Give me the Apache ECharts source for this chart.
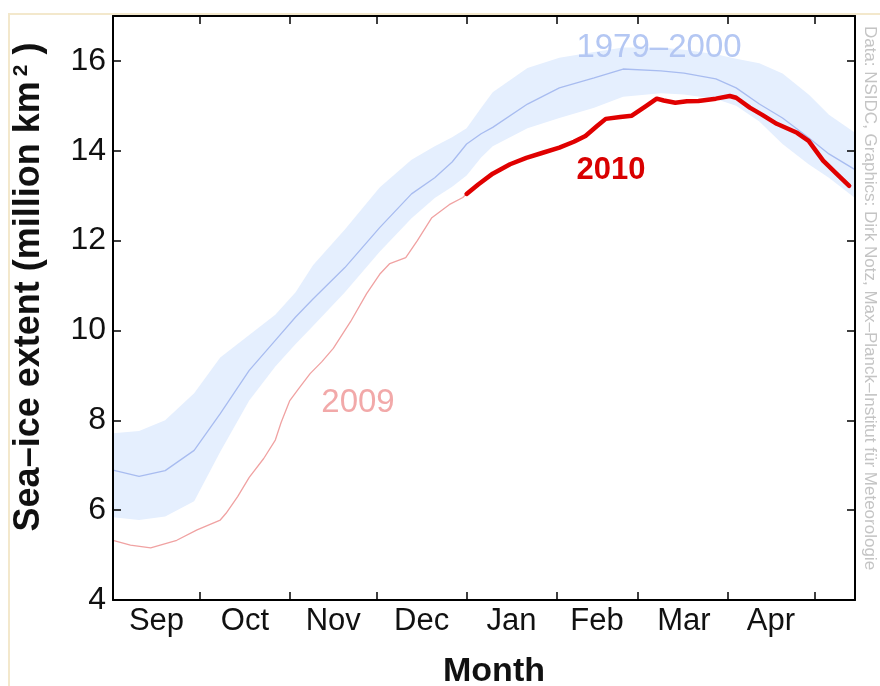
<!DOCTYPE html>
<html>
<head>
<meta charset="utf-8">
<script src="https://cdn.jsdelivr.net/npm/echarts@6/dist/echarts.min.js"></script>
<style>
  html, body { margin: 0; padding: 0; background: #fff; }
  #chart { width: 880px; height: 686px; }
</style>
</head>
<body>
<div id="chart"></div>
<script>
// x = days since 1 Sep
const monthNames = ['Sep', 'Oct', 'Nov', 'Dec', 'Jan', 'Feb', 'Mar', 'Apr'];
const monthStartDays = [30, 61, 91, 122, 153, 181, 212, 242];
const monthMidDays = [15, 45.5, 76, 106.5, 137.5, 167, 197, 227];
const yTicks = [4, 6, 8, 10, 12, 14, 16];

// 1979-2000 climatology
const climDays = [0, 9, 18, 28, 37, 47, 56, 63, 69, 80, 92, 103, 111, 117, 122, 127, 131, 143, 154, 166, 176, 189, 197, 208, 215, 223, 231, 240, 247, 256];
const climMean = [6.89, 6.75, 6.88, 7.33, 8.15, 9.11, 9.78, 10.3, 10.7, 11.4, 12.29, 13.04, 13.4, 13.75, 14.15, 14.38, 14.52, 15.04, 15.4, 15.62, 15.82, 15.78, 15.73, 15.6, 15.4, 15.04, 14.73, 14.29, 13.93, 13.58];
const climUpper = [7.71, 7.76, 8.0, 8.6, 9.4, 9.9, 10.35, 10.85, 11.45, 12.25, 13.18, 13.8, 14.1, 14.3, 14.5, 14.95, 15.3, 15.84, 16.07, 16.2, 16.3, 16.3, 16.25, 16.15, 16.05, 15.95, 15.72, 15.25, 14.8, 14.4];
const climLower = [5.84, 5.78, 5.86, 6.2, 7.3, 8.44, 9.2, 9.7, 10.1, 10.85, 11.75, 12.5, 12.95, 13.2, 13.45, 13.85, 14.1, 14.5, 14.73, 14.96, 15.2, 15.28, 15.25, 15.15, 15.0, 14.65, 14.15, 13.7, 13.4, 12.95];

// 2009 (Sep-Dec)
const days2009 = [0, 6, 13, 22, 29, 37, 39, 43, 47, 52, 56, 58, 61, 64, 68, 72, 76, 82, 87.5, 92, 95.5, 101, 105, 110, 116, 120.7, 122.4];
const ext2009 = [5.33, 5.22, 5.16, 5.33, 5.56, 5.78, 5.93, 6.3, 6.73, 7.15, 7.56, 7.95, 8.44, 8.7, 9.04, 9.3, 9.6, 10.2, 10.82, 11.25, 11.49, 11.62, 12.0, 12.51, 12.8, 12.96, 13.07];

// 2010 (Jan-May)
const days2010 = [122, 126, 131, 137, 142.6, 148, 154, 159, 163, 167, 170, 175, 179, 184, 187.6, 190, 194, 198, 202, 208, 212.8, 215, 219.7, 224, 229, 236, 240, 245, 249.6, 254];
const ext2010 = [13.04, 13.25, 13.49, 13.7, 13.84, 13.95, 14.07, 14.2, 14.33, 14.55, 14.71, 14.75, 14.78, 15.0, 15.16, 15.12, 15.07, 15.1, 15.11, 15.16, 15.22, 15.18, 14.96, 14.8, 14.6, 14.4, 14.22, 13.78, 13.49, 13.22];

const zip = (xs, ys) => xs.map((x, i) => [x, ys[i]]);

const chart = echarts.init(document.getElementById('chart'));
const font = '"Liberation Sans", Arial, Helvetica, sans-serif';

const xBase = {
  type: 'value', min: 0, max: 256, z: 10,
  splitLine: { show: false },
  axisLine: { show: true, onZero: false, lineStyle: { color: '#000', width: 2 } },
  axisTick: { show: true, inside: true, length: 8, customValues: monthStartDays, lineStyle: { color: '#000', width: 1.5 } }
};
const yBase = {
  type: 'value', min: 4, max: 17, z: 10,
  splitLine: { show: false },
  axisLine: { show: true, onZero: false, lineStyle: { color: '#000', width: 2 } },
  axisTick: { show: true, inside: true, length: 8, customValues: yTicks, lineStyle: { color: '#000', width: 1.5 } }
};

const option = {
  animation: false,
  backgroundColor: '#fff',
  grid: { left: 113, right: 25, top: 16, bottom: 86 },
  xAxis: [
    Object.assign({}, xBase, {
      position: 'bottom',
      axisLabel: {
        customValues: monthMidDays, margin: 6,
        color: '#111', fontSize: 31, fontFamily: font,
        formatter: v => monthNames[monthMidDays.indexOf(v)] || ''
      }
    }),
    Object.assign({}, xBase, { position: 'top', axisLabel: { show: false } })
  ],
  yAxis: [
    Object.assign({}, yBase, {
      position: 'left',
      axisLabel: { customValues: yTicks, margin: 7, color: '#111', fontSize: 32, fontFamily: font }
    }),
    Object.assign({}, yBase, { position: 'right', axisLabel: { show: false } })
  ],
  series: [
    {
      name: 'band upper', type: 'line', silent: true, showSymbol: false,
      data: zip(climDays, climUpper),
      lineStyle: { width: 0 },
      areaStyle: { color: '#e5effe', opacity: 1, origin: 'start' }
    },
    {
      name: 'band lower', type: 'line', silent: true, showSymbol: false,
      data: zip(climDays, climLower),
      lineStyle: { width: 0 },
      areaStyle: { color: '#ffffff', opacity: 1, origin: 'start' }
    },
    {
      name: '1979–2000', type: 'line', silent: true, showSymbol: false,
      data: zip(climDays, climMean),
      lineStyle: { color: '#a8bcf0', width: 1.3 }
    },
    {
      name: '2009', type: 'line', silent: true, showSymbol: false,
      data: zip(days2009, ext2009),
      lineStyle: { color: '#f0a2a2', width: 1.3 }
    },
    {
      name: '2010', type: 'line', silent: true, showSymbol: false,
      data: zip(days2010, ext2010),
      lineStyle: { color: '#e00000', width: 4.5, join: 'round', cap: 'round' }
    }
  ],
  graphic: [
    { type: 'rect', silent: true, z: -10, shape: { x: 9, y: 14, width: 900, height: 700 },
      style: { fill: null, stroke: '#f3e8cc', lineWidth: 2 } },
    { type: 'text', silent: true, x: 29, y: 287, rotation: Math.PI / 2,
      style: {
        text: '{a|Sea–ice extent (million km}{s|2}{a| )}',
        align: 'center', verticalAlign: 'middle', fill: '#111',
        rich: {
          a: { fontSize: 36, fontWeight: 'bold', fontFamily: font, fill: '#111' },
          s: { fontSize: 21, fontWeight: 'bold', fontFamily: font, fill: '#111', verticalAlign: 'top', padding: [0, 0, 14, 5] }
        }
      } },
    { type: 'text', silent: true, x: 494, y: 672,
      style: { text: 'Month', font: 'bold 34px ' + font, fill: '#111', align: 'center', verticalAlign: 'middle' } },
    { type: 'text', silent: true, x: 870, y: 298, rotation: -Math.PI / 2,
      style: { text: 'Data: NSIDC, Graphics: Dirk Notz, Max–Planck–Institut für Meteorologie',
        font: '17px ' + font, fill: '#c4c4c4', align: 'center', verticalAlign: 'middle' } },
    { type: 'text', silent: true, x: 659, y: 48, z: 20,
      style: { text: '1979–2000', font: '33px ' + font, fill: '#b4c7f3', align: 'center', verticalAlign: 'middle' } },
    { type: 'text', silent: true, x: 611, y: 170, z: 20,
      style: { text: '2010', font: 'bold 31px ' + font, fill: '#d90000', align: 'center', verticalAlign: 'middle' } },
    { type: 'text', silent: true, x: 358, y: 403, z: 20,
      style: { text: '2009', font: '33px ' + font, fill: '#f2a9a9', align: 'center', verticalAlign: 'middle' } }
  ]
};

chart.setOption(option);
</script>
</body>
</html>
